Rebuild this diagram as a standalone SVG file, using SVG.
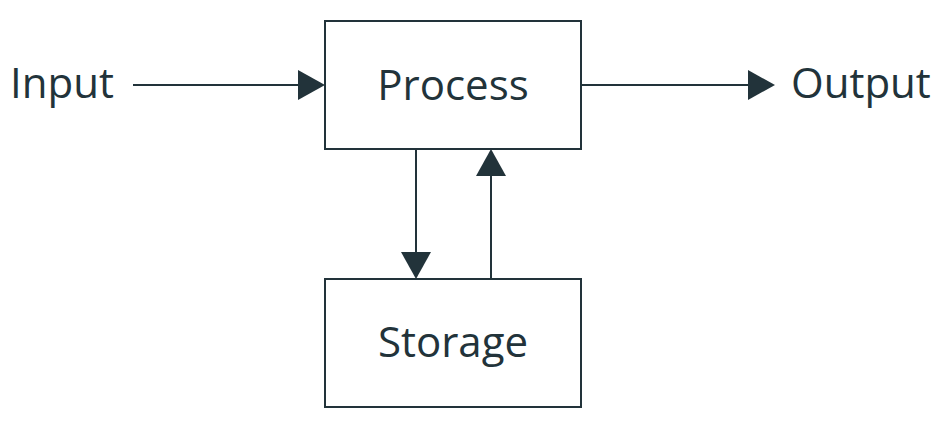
<svg xmlns="http://www.w3.org/2000/svg" width="941" height="423" viewBox="0 0 941 423">
<defs>
<style>
.box{fill:#fff;stroke:#22333a;stroke-width:2}
.lbl{font-family:"Open Sans","Noto Sans",sans-serif;font-size:42px;fill:#22333a}
.ln{stroke:#22333a;stroke-width:2;fill:none}
.hd{fill:#22333a}
</style>
</defs>
<rect width="941" height="423" fill="#fff"/>
<g id="connectors">
<line class="ln" x1="133" y1="85" x2="300" y2="85"/>
<polygon class="hd" points="298,70 325,85 298,100"/>
<line class="ln" x1="581" y1="85" x2="750" y2="85"/>
<polygon class="hd" points="748,70 775,85 748,100"/>
<line class="ln" x1="416" y1="149" x2="416" y2="254"/>
<polygon class="hd" points="401,252 431,252 416,279"/>
<line class="ln" x1="491" y1="279" x2="491" y2="174"/>
<polygon class="hd" points="476,176 506,176 491,149"/>
</g>
<g id="input"><text class="lbl" x="10" y="98">Input</text></g>
<g id="process"><rect class="box" x="325" y="21" width="256" height="128"/><text class="lbl" x="453" y="100" text-anchor="middle">Process</text></g>
<g id="output"><text class="lbl" x="791" y="98">Output</text></g>
<g id="storage"><rect class="box" x="325" y="279" width="256" height="128"/><text class="lbl" x="453" y="357" text-anchor="middle">Storage</text></g>
</svg>
